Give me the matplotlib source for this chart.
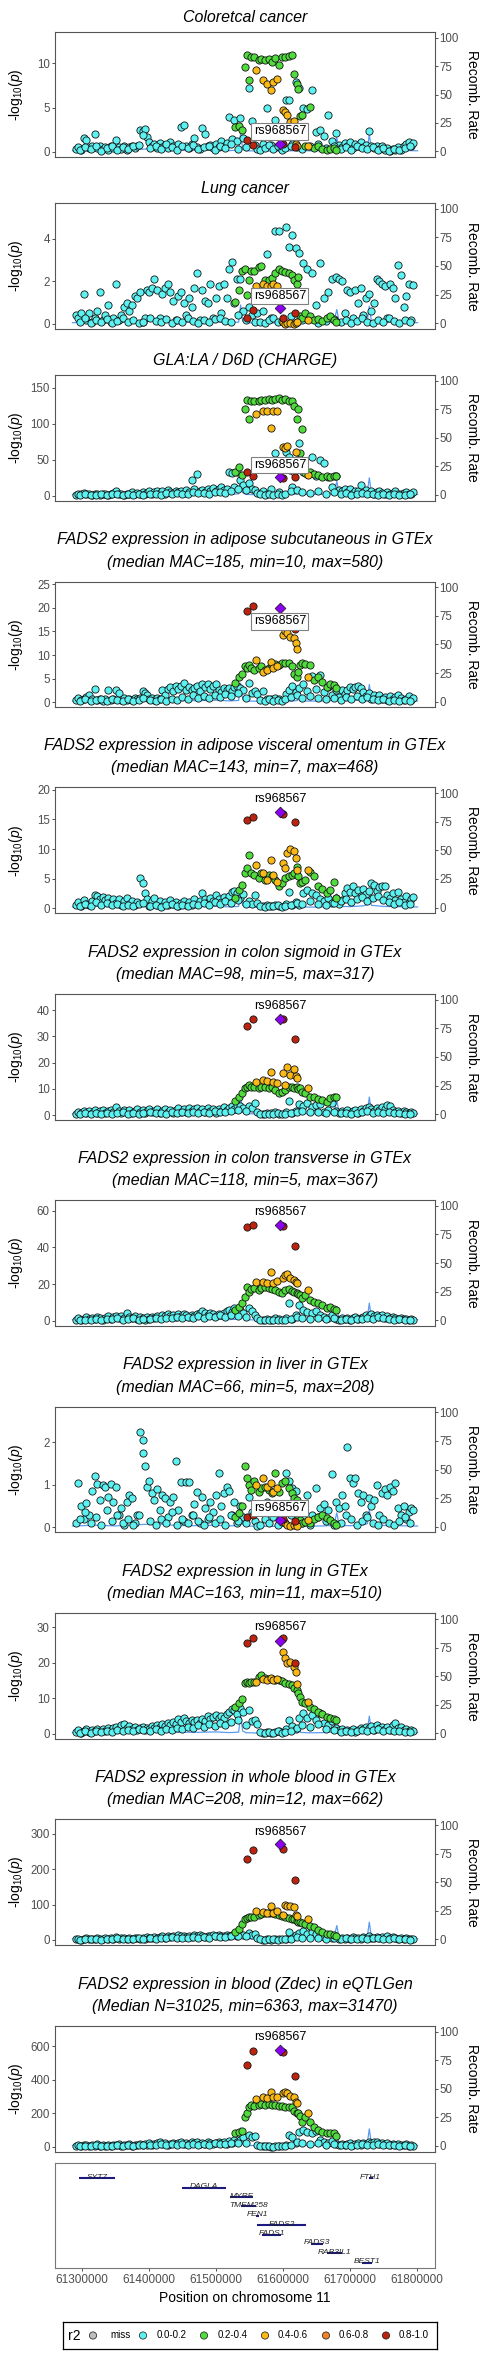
import numpy as np
import matplotlib
matplotlib.use('Agg')
import matplotlib.pyplot as plt

plt.rcParams['font.family'] = ['Liberation Sans', 'DejaVu Sans']
plt.rcParams['mathtext.fontset'] = 'custom'
plt.rcParams['mathtext.rm'] = 'Liberation Sans'
plt.rcParams['mathtext.it'] = 'Liberation Sans:italic'

# ---------------- shared SNP positions (kb on chr11) ----------------
bg_kb = [61292, 61295, 61299, 61303, 61307, 61311, 61315, 61319, 61323, 61327,
         61331, 61335, 61339, 61343, 61347, 61351, 61355, 61359, 61363, 61367,
         61371, 61375, 61379, 61383, 61387, 61391, 61394, 61397, 61400, 61404,
         61408, 61412, 61416, 61420, 61424, 61428, 61432, 61436, 61440, 61444,
         61448, 61452, 61456, 61460, 61464, 61468, 61472, 61476, 61480, 61484,
         61488, 61492, 61496, 61500, 61504, 61508, 61512, 61516, 61520, 61524,
         61527, 61531, 61536, 61541, 61550, 61554, 61558, 61562, 61570, 61577,
         61583, 61589, 61594, 61605, 61609, 61614, 61619, 61624, 61630, 61636,
         61643, 61650, 61656, 61662, 61668, 61674, 61679, 61684, 61688, 61692,
         61696, 61700, 61704, 61708, 61712, 61716, 61720, 61724, 61728, 61732,
         61736, 61740, 61744, 61748, 61752, 61756, 61760, 61764, 61768, 61772,
         61776, 61780, 61784, 61788, 61791, 61794]
bg2_kb = [61297, 61305, 61313, 61321, 61329, 61337, 61345, 61353, 61361, 61369,
          61377, 61385, 61392, 61402, 61410, 61418, 61426, 61434, 61442, 61450,
          61458, 61466, 61474, 61482, 61490, 61498, 61506, 61514, 61522, 61533,
          61545, 61566, 61573, 61580, 61586, 61592, 61598, 61603, 61612, 61621,
          61628, 61640, 61652, 61664, 61676, 61686, 61694, 61702, 61710, 61718,
          61726, 61734, 61742, 61750, 61758, 61766, 61774, 61782, 61790]
green_kb = [61529, 61534, 61539, 61544, 61546, 61549, 61552, 61556.5, 61564, 61567,
            61574, 61579, 61584, 61588, 61593.5, 61598.5, 61603.5, 61608.5, 61613, 61617,
            61621, 61623, 61626, 61628, 61633, 61641, 61646, 61653, 61658, 61666,
            61671, 61676, 61680]
orange_kb = [61560, 61571, 61576, 61582, 61586, 61591, 61600.5, 61603.5, 61606, 61611,
             61616, 61619.5, 61621.5, 61638]
red_kb = [61547, 61556, 61599.5, 61618.5]
lead_kb = 61595.6
lead_name = "rs968567"

# recombination rate
recomb_kb = [61286, 61300, 61320, 61350, 61380, 61410, 61440, 61470, 61500, 61520,
             61534, 61537, 61540, 61545, 61560, 61580, 61600, 61615, 61622, 61624,
             61626, 61640, 61660, 61676, 61680.5, 61684, 61700, 61720, 61726, 61729,
             61732, 61750, 61770, 61801]
recomb_rate = [0.5, 0.8, 1.2, 0.6, 1.5, 2.5, 1.0, 0.8, 1.2, 0.6,
               1.0, 16, 2.0, 0.5, 0.3, 0.2, 0.3, 0.5, 1.0, 7,
               0.8, 0.4, 0.6, 1.0, 12, 1.0, 0.8, 1.5, 2.5, 15,
               2.0, 1.0, 0.8, 0.5]

# ---------------- panel titles ----------------
titles = [
    ["Coloretcal cancer"],
    ["Lung cancer"],
    ["GLA:LA / D6D (CHARGE)"],
    ["FADS2 expression in adipose subcutaneous in GTEx", "(median MAC=185, min=10, max=580)"],
    ["FADS2 expression in adipose visceral omentum in GTEx", "(median MAC=143, min=7, max=468)"],
    ["FADS2 expression in colon sigmoid in GTEx", "(median MAC=98, min=5, max=317)"],
    ["FADS2 expression in colon transverse in GTEx", "(median MAC=118, min=5, max=367)"],
    ["FADS2 expression in liver in GTEx", "(median MAC=66, min=5, max=208)"],
    ["FADS2 expression in lung in GTEx", "(median MAC=163, min=11, max=510)"],
    ["FADS2 expression in whole blood in GTEx", "(median MAC=208, min=12, max=662)"],
    ["FADS2 expression in blood (Zdec) in eQTLGen", "(Median N=31025, min=6363, max=31470)"],
]

# ---------------- -log10(p) values per panel ----------------
bg_colorectal = [0.3, 0.5, 0.2, 1.6, 1.3, 0.4, 0.6, 2.0, 0.4, 0.7,
                 0.3, 0.5, 0.2, 0.6, 0.4, 1.3, 0.5, 0.3, 0.6, 0.2,
                 0.5, 0.7, 0.4, 0.6, 2.4, 2.3, 2.6, 1.7, 1.1, 0.6,
                 0.9, 0.4, 1.0, 0.5, 0.8, 0.4, 1.1, 0.6, 0.5, 0.9,
                 2.8, 3.0, 0.7, 0.4, 0.9, 1.6, 0.5, 0.3, 2.7, 2.0,
                 0.6, 0.8, 0.4, 0.9, 0.5, 1.2, 0.6, 1.0, 3.9, 1.4,
                 3.6, 1.2, 3.8, 1.5, 7.2, 3.5, 0.8, 0.3, 0.9, 4.9,
                 0.8, 3.6, 0.5, 5.8, 5.8, 0.9, 7.9, 7.2, 5.0, 4.8,
                 7.0, 2.2, 2.5, 1.8, 4.2, 1.2, 2.1, 0.8, 0.5, 1.0,
                 0.6, 1.1, 0.4, 0.9, 0.7, 1.1, 0.5, 0.8, 2.3, 0.6,
                 0.4, 0.7, 0.3, 0.6, 0.2, 0.4, 0.1, 0.3, 0.2, 0.5,
                 0.2, 0.7, 0.9, 1.1, 0.6, 1.0]
bg_lungca = [0.4, 0.3, 0.5, 1.4, 0.2, 0.5, 0.1, 0.3, 0.6, 1.5,
             0.2, 0.4, 0.9, 0.1, 0.3, 1.9, 0.2, 0.4, 0.8, 1.0,
             0.6, 0.9, 1.3, 1.2, 1.5, 0.1, 0.3, 1.6, 1.5, 1.7,
             2.1, 1.6, 0.3, 1.4, 1.7, 1.9, 1.5, 1.1, 0.2, 1.3,
             1.5, 1.0, 0.4, 1.2, 0.8, 1.7, 2.4, 0.2, 1.6, 1.1,
             1.0, 1.9, 0.3, 1.2, 1.8, 0.5, 1.9, 1.2, 2.6, 2.9,
             1.0, 2.1, 2.1, 0.6, 0.8, 0.4, 0.1, 0.5, 0.6, 3.3,
             0.3, 4.35, 4.35, 4.55, 3.6, 4.2, 3.55, 3.35, 2.85, 2.6,
             2.4, 0.9, 2.85, 1.2, 1.5, 2.1, 2.2, 2.1, 2.0, 0.5,
             1.6, 1.5, 0.3, 1.6, 1.0, 1.7, 0.4, 1.2, 1.4, 0.6,
             1.0, 2.1, 2.0, 1.9, 1.8, 0.3, 1.9, 1.7, 1.2, 2.75,
             2.3, 0.8, 1.3, 1.9, 0.2, 1.85]
bg_gla = [1, 3, 2, 4, 2, 3, 1, 2, 3, 1,
          2, 3, 1, 2, 4, 6, 2, 3, 1, 2,
          3, 5, 2, 4, 3, 5, 2, 4, 6, 3,
          5, 7, 4, 6, 3, 8, 5, 4, 7, 5,
          6, 4, 8, 5, 22, 9, 30, 6, 8, 5,
          9, 7, 11, 6, 9, 12, 8, 10, 33, 32,
          12, 33, 22, 15, 17, 10, 8, 4, 6, 2,
          10, 59, 5, 61, 54, 12, 40, 73, 33, 30,
          54, 28, 50, 45, 26, 12, 27, 8, 6, 10,
          5, 9, 4, 7, 6, 15, 5, 8, 4, 6,
          3, 5, 7, 4, 3, 5, 2, 4, 6, 3,
          2, 4, 5, 3, 2, 5]
bg_adsub = [0.5, 0.9, 0.4, 0.8, 1.2, 1.5, 0.6, 2.8, 0.5, 0.7,
            0.3, 0.6, 2.6, 0.4, 0.8, 2.5, 1.9, 0.5, 0.9, 0.4,
            0.7, 0.5, 0.9, 0.6, 1.0, 2.3, 2.0, 1.5, 0.6, 0.9,
            0.4, 1.0, 0.7, 2.6, 1.5, 2.9, 3.2, 2.4, 3.4, 2.8,
            3.5, 4.0, 2.5, 3.2, 2.7, 3.0, 3.5, 2.4, 3.8, 3.2,
            3.9, 2.8, 3.4, 3.9, 2.6, 2.2, 3.0, 2.5, 3.1, 2.4,
            3.3, 3.5, 3.0, 2.6, 4.0, 2.0, 2.3, 1.8, 2.3, 0.8,
            0.6, 1.0, 0.7, 1.8, 2.5, 3.4, 2.2, 3.0, 3.8, 2.4,
            5.5, 2.8, 5.8, 2.2, 3.3, 1.5, 2.5, 1.2, 2.6, 1.8,
            2.7, 3.3, 2.9, 3.2, 3.4, 3.0, 2.1, 1.4, 2.0, 0.8,
            1.5, 0.9, 1.6, 0.6, 1.2, 0.5, 1.4, 0.7, 1.1, 1.6,
            0.9, 0.4, 0.8, 1.3, 0.5, 0.9]
bg_advis = [0.6, 1.1, 0.4, 1.4, 0.8, 0.5, 1.2, 2.2, 2.1, 1.6,
            1.9, 1.4, 1.8, 1.1, 1.6, 0.9, 1.5, 0.6, 1.3, 1.7,
            0.8, 1.2, 0.5, 1.0, 5.1, 4.2, 2.5, 1.6, 0.4, 1.3,
            1.7, 0.6, 1.2, 0.3, 1.0, 0.5, 1.4, 0.7, 1.1, 0.4,
            0.9, 1.3, 0.5, 1.0, 0.6, 1.5, 0.8, 1.2, 2.5, 1.6,
            1.0, 1.8, 1.3, 2.2, 1.5, 1.1, 1.9, 1.4, 2.0, 2.7,
            3.0, 2.6, 1.8, 2.4, 1.2, 0.7, 2.2, 0.9, 0.4, 0.6,
            0.3, 0.5, 0.4, 0.8, 2.8, 0.5, 1.0, 0.6, 2.6, 3.1,
            2.5, 2.2, 1.6, 1.2, 1.8, 0.9, 1.7, 0.7, 1.4, 2.5,
            3.4, 2.8, 3.7, 2.6, 3.1, 2.0, 3.3, 2.4, 3.0, 4.2,
            3.9, 2.9, 3.6, 3.7, 3.8, 2.3, 1.8, 2.6, 1.4, 2.8,
            1.6, 1.1, 2.0, 0.9, 1.5, 1.9]
bg_colsig = [0.5, 1.2, 0.8, 1.6, 0.6, 1.4, 0.9, 1.8, 0.7, 1.5,
             1.9, 0.8, 1.6, 2.0, 1.2, 3.2, 1.5, 0.9, 2.0, 1.3,
             1.8, 0.7, 1.6, 2.1, 1.1, 1.9, 0.6, 1.4, 2.3, 1.0,
             1.7, 2.2, 0.8, 1.5, 2.4, 1.2, 2.0, 0.9, 1.8, 2.5,
             1.3, 2.2, 1.0, 2.6, 1.6, 2.1, 2.8, 1.4, 2.3, 1.1,
             2.5, 1.7, 2.2, 0.9, 2.4, 1.5, 2.9, 1.8, 2.6, 3.4,
             2.2, 3.8, 3.4, 2.5, 3.6, 2.8, 4.4, 1.3, 0.4, 0.9,
             0.6, 1.0, 0.5, 1.2, 5.5, 0.8, 1.5, 4.2, 3.5, 4.6,
             3.0, 3.7, 4.2, 1.1, 2.0, 4.4, 1.5, 0.8, 1.6, 1.2,
             2.0, 0.7, 1.4, 1.9, 0.9, 2.3, 1.6, 2.8, 3.2, 2.1,
             1.4, 2.7, 1.9, 3.0, 2.4, 3.8, 3.3, 2.0, 1.3, 1.7,
             0.9, 1.5, 1.1, 0.6, 1.2, 0.6]
bg_coltra = [0.8, 1.5, 0.6, 1.2, 2.0, 0.9, 1.6, 1.1, 2.3, 1.4,
             0.7, 1.9, 2.5, 1.3, 2.1, 2.7, 1.5, 2.9, 1.8, 4.2,
             2.2, 1.4, 2.6, 1.0, 2.3, 1.7, 0.8, 2.0, 1.2, 2.4,
             1.6, 2.9, 1.9, 3.5, 2.6, 3.8, 2.8, 3.3, 2.2, 3.6,
             2.9, 3.9, 3.1, 2.4, 3.5, 2.8, 3.7, 4.3, 5.6, 4.1,
             3.2, 4.5, 3.6, 2.9, 4.0, 3.3, 4.6, 5.4, 6.2, 4.9,
             7.0, 5.2, 6.1, 4.5, 6.9, 5.6, 3.3, 1.8, 0.6, 1.2,
             0.8, 1.4, 0.9, 1.5, 10.0, 1.1, 3.0, 8.7, 6.2, 5.0,
             4.1, 5.6, 3.4, 2.2, 1.5, 3.0, 1.2, 0.7, 1.5, 1.0,
             1.8, 0.8, 1.4, 2.0, 1.1, 1.9, 2.4, 3.2, 2.6, 3.8,
             2.9, 3.5, 2.2, 3.1, 1.8, 2.6, 1.4, 2.2, 1.6, 1.0,
             1.7, 0.9, 1.3, 0.7, 1.0, 0.5]
bg_liver = [0.1, 1.05, 0.5, 0.2, 0.58, 0.3, 0.86, 1.2, 1.02, 0.65,
            1.0, 0.95, 0.72, 1.02, 0.6, 0.95, 0.3, 0.45, 0.05, 0.6,
            0.76, 0.7, 0.1, 0.3, 2.25, 2.05, 1.45, 0.95, 1.1, 0.8,
            0.65, 0.9, 0.4, 0.75, 0.7, 0.25, 0.6, 0.72, 1.57, 0.4,
            1.07, 0.15, 1.07, 1.07, 0.3, 0.55, 0.84, 0.1, 0.72, 0.45,
            0.2, 0.6, 0.35, 0.75, 1.27, 0.5, 0.8, 0.95, 0.85, 0.3,
            0.6, 0.1, 0.49, 0.25, 0.72, 0.35, 0.15, 0.04, 0.4, 0.6,
            0.5, 0.3, 0.45, 1.27, 1.1, 0.92, 0.85, 0.4, 0.25, 0.76,
            0.3, 0.93, 0.45, 0.55, 0.4, 1.25, 0.6, 0.45, 0.75, 0.5,
            1.9, 1.15, 1.04, 1.15, 0.8, 0.6, 0.75, 0.3, 0.7, 0.5,
            0.65, 1.0, 0.3, 0.8, 0.9, 0.75, 0.95, 0.85, 1.05, 0.45,
            0.3, 0.5, 0.2, 0.35, 0.45, 0.4]
bg_lunggt = [0.5, 1.2, 0.4, 0.9, 1.4, 0.6, 1.1, 0.8, 1.5, 0.7,
             1.3, 0.9, 1.6, 1.1, 1.8, 2.1, 1.4, 2.4, 2.8, 1.7,
             2.2, 1.3, 1.9, 1.0, 1.6, 2.0, 1.2, 1.8, 1.4, 2.3,
             1.7, 2.5, 1.9, 2.8, 2.2, 3.2, 2.6, 3.5, 2.9, 4.1,
             3.3, 4.4, 3.6, 3.0, 3.8, 3.4, 4.0, 3.1, 4.3, 3.7,
             5.0, 4.2, 4.8, 5.3, 4.5, 5.1, 4.4, 5.5, 6.1, 7.0,
             6.7, 5.6, 7.2, 6.2, 6.7, 3.6, 3.9, 2.8, 0.4, 0.6,
             0.3, 0.5, 0.8, 1.5, 3.9, 2.2, 1.4, 4.6, 5.8, 4.4,
             5.2, 4.0, 6.0, 3.2, 2.4, 3.6, 1.8, 1.0, 1.4, 0.7,
             1.2, 0.9, 1.5, 0.6, 1.1, 1.8, 1.3, 2.0, 1.6, 2.3,
             1.2, 2.5, 1.7, 2.1, 1.4, 1.9, 1.1, 2.4, 3.2, 1.6,
             2.0, 1.0, 1.5, 0.8, 1.2, 0.9]
bg_blood = [2, 4, 1, 3, 5, 2, 4, 3, 6, 2,
            4, 5, 3, 6, 4, 8, 3, 5, 7, 4,
            6, 3, 5, 7, 4, 6, 3, 8, 5, 7,
            9, 6, 8, 10, 7, 11, 8, 12, 9, 13,
            10, 12, 8, 11, 9, 13, 10, 14, 11, 9,
            12, 10, 13, 11, 14, 10, 12, 15, 11, 13,
            16, 12, 18, 14, 20, 15, 17, 6, 1, 2,
            1, 3, 2, 4, 22, 5, 14, 20, 25, 18,
            22, 16, 19, 8, 12, 6, 9, 4, 7, 3,
            6, 4, 8, 5, 7, 3, 9, 6, 10, 7,
            5, 8, 6, 9, 7, 10, 5, 8, 6, 4,
            7, 3, 5, 2, 4, 2]
bg_eqtlgen = [5, 10, 3, 8, 12, 4, 9, 6, 14, 5,
              10, 7, 13, 4, 11, 8, 15, 6, 12, 9,
              16, 7, 13, 10, 18, 8, 14, 11, 20, 12,
              17, 24, 30, 15, 22, 13, 19, 25, 16, 21,
              27, 18, 23, 14, 26, 20, 29, 17, 24, 19,
              28, 22, 16, 25, 30, 21, 27, 18, 32, 24,
              38, 30, 42, 55, 70, 60, 64, 8, 2, 4,
              1, 6, 3, 12, 70, 60, 25, 85, 100, 90,
              80, 95, 40, 30, 20, 35, 15, 10, 18, 8,
              14, 20, 11, 16, 22, 12, 25, 18, 28, 21,
              26, 30, 19, 24, 15, 22, 13, 18, 10, 16,
              12, 8, 14, 6, 10, 5]

bg2_colorectal = [0.2, 0.5, 0.3, 0.6, 0.1, 0.4, 0.7, 0.2, 0.5, 0.3,
                  0.6, 0.8, 1.9, 0.4, 0.7, 0.3, 0.9, 0.5, 0.2, 0.6,
                  0.4, 0.8, 0.3, 0.5, 0.7, 0.2, 0.6, 0.4, 0.9, 0.3,
                  0.5, 0.2, 0.4, 0.8, 0.3, 0.6, 0.2, 0.4, 0.7, 0.5,
                  0.3, 0.6, 0.9, 0.4, 0.7, 0.3, 0.5, 0.2, 0.6, 0.4,
                  0.3, 0.5, 0.2, 0.4, 0.1, 0.3, 0.2, 0.4, 0.6]
bg2_lungca = [0.1, 0.3, 0.05, 0.2, 0.1, 0.25, 0.05, 0.15, 0.3, 0.1,
              0.2, 0.05, 0.1, 0.3, 0.15, 0.1, 0.25, 0.05, 0.2, 0.1,
              0.3, 0.15, 0.05, 0.2, 0.1, 0.25, 0.3, 0.15, 0.1, 0.4,
              0.2, 0.1, 0.05, 0.2, 0.3, 0.1, 0.15, 0.05, 0.35, 0.1,
              0.2, 0.3, 0.05, 0.15, 0.25, 0.1, 0.2, 0.05, 0.15, 0.3,
              0.1, 0.05, 0.2, 0.1, 0.3, 0.15, 0.05, 0.2, 0.1]
bg2_gla = [1, 2, 0.5, 1.5, 2.5, 1, 2, 3, 1.5, 2,
           1, 2.5, 1.5, 3, 2, 1, 3.5, 2, 4, 3,
           2.5, 5, 3.5, 4, 3, 5, 4.5, 3.5, 6, 10,
           8, 2, 1, 3, 1.5, 2, 1, 3, 6, 8,
           5, 4, 6, 3, 5, 2, 3.5, 1.5, 2.5, 4,
           2, 3, 1.5, 2.5, 1, 2, 1.5, 1, 2]
bg2_adsub = [0.3, 0.6, 0.2, 0.5, 0.8, 0.3, 0.7, 0.4, 0.2, 0.6,
             0.3, 0.5, 0.9, 0.4, 0.2, 0.6, 0.3, 0.8, 0.5, 1.2,
             0.7, 1.5, 0.9, 1.3, 1.0, 1.6, 1.2, 1.8, 1.4, 2.0,
             1.0, 0.4, 0.3, 0.6, 0.2, 0.5, 0.3, 0.7, 1.2, 1.5,
             0.9, 1.4, 1.0, 0.6, 0.9, 0.5, 1.1, 0.7, 1.3, 0.8,
             1.2, 0.6, 0.4, 0.7, 0.3, 0.5, 0.2, 0.4, 0.3]
bg2_advis = [0.3, 0.7, 0.4, 1.0, 0.6, 0.9, 0.5, 0.8, 0.3, 0.6,
             0.4, 0.7, 0.9, 0.3, 0.6, 0.2, 0.5, 0.8, 0.3, 0.6,
             0.4, 0.7, 0.5, 0.9, 0.6, 1.1, 0.7, 1.2, 0.9, 1.4,
             0.8, 0.3, 0.2, 0.4, 0.3, 0.5, 0.2, 0.4, 0.6, 0.9,
             0.7, 1.2, 0.8, 0.5, 0.9, 1.2, 1.6, 1.0, 1.5, 1.9,
             1.3, 1.7, 2.0, 1.4, 1.1, 0.8, 1.0, 0.6, 0.8]
bg2_colsig = [0.3, 0.7, 0.4, 0.9, 0.5, 0.8, 0.3, 0.6, 1.0, 0.5,
              0.8, 0.4, 0.7, 1.1, 0.6, 0.9, 0.5, 1.2, 0.8, 1.0,
              0.6, 1.3, 0.9, 1.1, 0.7, 1.4, 1.0, 1.2, 1.5, 2.0,
              1.6, 0.4, 0.3, 0.5, 0.2, 0.6, 0.3, 0.5, 0.8, 1.2,
              1.5, 1.0, 1.3, 0.8, 1.1, 0.6, 0.9, 0.5, 0.8, 1.1,
              1.4, 0.9, 1.2, 0.7, 1.0, 0.6, 0.8, 0.4, 0.5]
bg2_coltra = [0.4, 0.8, 0.5, 1.0, 0.6, 1.2, 0.9, 1.4, 0.7, 1.1,
              1.5, 0.8, 1.3, 1.0, 1.6, 1.2, 1.9, 1.4, 2.1, 1.7,
              2.3, 1.5, 2.5, 1.9, 2.8, 2.2, 3.0, 2.4, 3.2, 2.8,
              2.0, 0.5, 0.4, 0.7, 0.3, 0.6, 0.4, 0.8, 1.2, 2.0,
              1.6, 1.3, 1.8, 1.0, 1.4, 0.7, 1.1, 0.6, 0.9, 1.3,
              1.7, 1.2, 2.0, 1.5, 1.1, 0.8, 1.0, 0.6, 0.5]
bg2_liver = [0.2, 0.35, 0.1, 0.25, 0.05, 0.4, 0.15, 0.3, 0.1, 0.2,
             0.05, 0.3, 1.75, 0.15, 0.05, 0.2, 0.1, 0.35, 0.05, 0.2,
             0.1, 0.3, 0.15, 0.05, 0.25, 0.1, 0.2, 0.05, 0.3, 0.15,
             0.1, 0.05, 0.2, 0.1, 0.25, 0.05, 0.15, 0.1, 0.3, 0.2,
             0.1, 0.05, 0.25, 0.15, 0.05, 0.1, 0.3, 0.2, 0.05, 0.15,
             0.25, 0.1, 0.05, 0.2, 0.1, 0.05, 0.15, 0.25, 0.1]
bg2_lunggt = [0.3, 0.7, 0.4, 0.9, 0.5, 0.8, 0.6, 1.1, 0.7, 1.2,
              0.9, 1.4, 1.0, 0.8, 1.3, 0.9, 1.5, 1.1, 1.8, 1.4,
              2.1, 1.6, 2.4, 1.9, 2.7, 2.2, 3.0, 2.6, 3.4, 4.0,
              2.5, 0.5, 0.3, 0.6, 0.4, 0.7, 0.3, 0.5, 0.9, 1.8,
              2.5, 2.0, 2.8, 1.5, 1.0, 0.6, 0.9, 0.5, 0.8, 1.1,
              0.7, 1.0, 1.3, 0.9, 1.2, 0.7, 0.9, 0.5, 0.6]
bg2_blood = [1, 3, 2, 4, 1, 3, 2, 5, 3, 4,
             2, 5, 3, 6, 4, 7, 5, 8, 6, 7,
             5, 9, 6, 8, 7, 10, 8, 9, 11, 12,
             10, 2, 1, 3, 2, 1, 2, 3, 4, 8,
             6, 5, 7, 4, 6, 3, 5, 2, 4, 6,
             3, 5, 7, 4, 3, 5, 2, 3, 1]
bg2_eqtlgen = [3, 6, 2, 8, 4, 7, 5, 10, 6, 9,
               4, 11, 8, 13, 9, 15, 10, 17, 12, 14,
               11, 19, 13, 16, 12, 20, 15, 18, 22, 25,
               20, 3, 2, 5, 1, 4, 2, 6, 10, 30,
               22, 18, 24, 12, 16, 8, 12, 6, 10, 14,
               9, 13, 17, 11, 8, 12, 6, 9, 4]

green_colorectal = [2.8, 2.9, 2.5, 9.6, 10.9, 8.1, 10.75, 10.75, 10.4, 10.5,
                    10.4, 10.5, 10.2, 10.6, 9.8, 10.7, 10.7, 10.8, 10.9, 8.8,
                    7.7, 7.1, 4.0, 4.2, 0.6, 5.1, 0.4, 0.6, 0.3, 0.2, 0.3, 0.4, 0.2]
green_lungca = [1.05, 1.6, 2.5, 2.6, 1.35, 2.07, 2.5, 2.5, 2.7, 2.73,
                2.07, 2.07, 2.15, 2.38, 2.6, 2.5, 2.46, 2.38, 2.3, 2.07,
                1.9, 2.2, 0.35, 0.27, 0.5, 0.35, 0.2, 0.22, 0.16, 0.27, 0.35, 0.2, 0.1]
green_gla = [33, 40, 29, 121, 133, 106, 132, 132, 131, 133,
             133, 134, 133, 134, 135, 133, 134, 132, 131, 124,
             107, 121, 60, 93, 31, 33, 30, 29, 26, 27, 26, 27, 27]
green_adsub = [4.0, 5.3, 6.1, 7.6, 7.2, 7.9, 7.2, 6.9, 7.2, 7.6,
               6.9, 7.2, 7.6, 8.1, 7.9, 8.4, 8.3, 8.4, 7.6, 6.1,
               5.4, 6.5, 7.9, 8.4, 8.1, 7.9, 4.7, 5.4, 4.4, 3.3, 3.9, 3.7, 3.0]
green_advis = [1.7, 3.1, 3.9, 5.9, 6.8, 9.0, 5.9, 5.6, 5.1, 5.9,
               4.8, 5.6, 5.4, 4.8, 3.7, 4.2, 5.1, 5.4, 5.6, 5.9,
               7.0, 5.4, 4.2, 4.5, 4.8, 6.2, 5.4, 3.7, 3.2, 2.5, 3.1, 4.5, 1.7]
green_colsig = [5.5, 7.0, 8.3, 10.2, 10.8, 11.4, 10.8, 10.5, 10.2, 10.5,
                10.8, 10.2, 10.5, 9.5, 8.3, 8.9, 9.5, 10.5, 10.8, 10.2,
                10.8, 9.8, 10.2, 8.9, 8.3, 7.0, 6.7, 6.0, 5.7, 5.1, 6.3, 7.0, 6.7]
green_coltra = [6.0, 7.8, 9.6, 13.3, 18.7, 16.0, 17.3, 17.8, 16.9, 17.8,
                18.4, 17.8, 17.3, 16.9, 16.0, 15.1, 16.9, 17.3, 16.5, 16.0,
                15.1, 14.7, 14.2, 12.4, 14.2, 11.5, 10.5, 9.6, 8.7, 6.9, 7.8, 6.4, 6.0]
green_liver = [0.25, 0.33, 0.49, 1.44, 1.15, 1.0, 0.88, 1.1, 0.84, 0.92,
               0.96, 0.88, 0.8, 1.27, 0.84, 1.04, 1.1, 0.92, 0.8, 0.68,
               0.64, 0.25, 0.17, 0.1, 0.13, 0.1, 0.19, 0.25, 0.29, 0.21, 0.17, 0.1, 0.05]
green_lunggt = [7.7, 8.6, 9.7, 14.2, 14.7, 14.4, 14.7, 14.7, 16.1, 16.6,
                15.7, 15.4, 15.4, 15.2, 15.2, 15.0, 14.4, 14.1, 13.8, 12.8,
                12.4, 11.4, 10.5, 9.1, 8.6, 7.7, 6.9, 6.3, 5.6, 4.9, 4.4, 4.1, 3.9]
green_blood = [22, 30, 45, 58, 62, 66, 64, 66, 70, 74,
               76, 77, 75, 74, 70, 68, 66, 63, 60, 58,
               55, 52, 50, 48, 46, 40, 36, 28, 22, 16, 18, 15, 12]
green_eqtlgen = [80, 90, 94, 176, 200, 240, 250, 244, 250, 256,
                 250, 256, 250, 250, 244, 244, 240, 240, 240, 216,
                 200, 200, 184, 150, 180, 150, 120, 100, 90, 84, 80, 80, 64]

orange_colorectal = [9.2, 8.1, 7.7, 7.0, 7.9, 8.2, 4.7, 4.5, 4.2, 3.4, 3.5, 0.9, 0.6, 0.6]
orange_lungca = [1.8, 1.9, 1.8, 1.8, 1.9, 1.8, 0.1, 0.0, 0.05, 0.03, 0.0, 0.05, 0.1, 0.2]
orange_gla = [114, 118, 117, 94, 118, 117, 68, 66, 69, 36, 33, 61, 50, 29]
orange_adsub = [9.0, 6.5, 6.9, 8.6, 7.2, 7.6, 14.3, 15.0, 14.6, 13.9, 13.6, 12.5, 11.2, 5.4]
orange_advis = [7.3, 5.9, 4.8, 8.1, 5.6, 4.5, 7.6, 6.8, 9.3, 10.0, 9.6, 8.5, 6.5, 6.4]
orange_colsig = [12.7, 13.3, 13.1, 16.5, 12.7, 12.1, 15.9, 11.4, 18.2, 15.2, 17.4, 14.9, 14.0, 10.2]
orange_coltra = [21.1, 21.1, 20.5, 26.4, 20.5, 21.5, 23.3, 25.1, 25.6, 23.3, 22.4, 21.1, 20.5, 16.9]
orange_liver = [1.0, 1.15, 0.96, 1.05, 0.84, 0.92, 0.17, 0.1, 0.05, 0.03, 0.05, 0.1, 0.02, 0.17]
orange_lunggt = [14.7, 15.4, 15.2, 15.7, 15.2, 15.4, 22.9, 21.3, 19.9, 20.3, 18.9, 17.5, 14.1, 9.1]
orange_blood = [81, 78, 76, 97, 76, 81, 71, 100, 95, 97, 92, 71, 67, 59]
orange_eqtlgen = [284, 296, 290, 330, 296, 296, 324, 330, 320, 304, 296, 270, 264, 200]

red_colorectal = [1.3, 0.8, 0.9, 0.5]
red_lungca = [0.3, 0.66, 0.3, 0.53]
red_gla = [33, 28, 24, 26]
red_adsub = [19.3, 20.5, 16.5, 15.5]
red_advis = [14.9, 15.4, 15.9, 14.6]
red_colsig = [33.9, 36.6, 36.5, 29.0]
red_coltra = [51.3, 52.1, 51.5, 40.8]
red_liver = [0.25, 0.3, 0.2, 0.15]
red_lunggt = [25.5, 27.1, 27.0, 20.0]
red_blood = [228, 254, 257, 169]
red_eqtlgen = [487, 575, 569, 421]

lead_vals = [0.9, 0.77, 26.4, 19.9, 16.2, 36.7, 52.2, 0.17, 26.2, 272, 579]

# genes
gene_names = ["SYT7", "FTH1", "DAGLA", "MYRF", "TMEM258", "FEN1", "FADS2", "FADS1", "FADS3", "RAB3IL1", "BEST1"]
gene_start_kb = [61296, 61728, 61449, 61521, 61537, 61560, 61561, 61569, 61642, 61666, 61718]
gene_end_kb = [61350, 61734, 61515, 61556, 61560, 61565, 61635, 61597, 61660, 61688, 61733]
gene_row = [0, 0, 1, 2, 3, 4, 5, 6, 7, 8, 9]

r2_labels = ["miss", "0.0-0.2", "0.2-0.4", "0.4-0.6", "0.6-0.8", "0.8-1.0"]
r2_colors = ["#BEBEBE", "#5CF2F2", "#4FDC3C", "#FAB914", "#F08228", "#BE230F"]
lead_color = "#8C00F0"

x_ticks_bp = [61300000, 61400000, 61500000, 61600000, 61700000, 61800000]

# ---------------- assemble panels ----------------
bg_sets = [bg_colorectal, bg_lungca, bg_gla, bg_adsub, bg_advis, bg_colsig, bg_coltra, bg_liver, bg_lunggt, bg_blood, bg_eqtlgen]
bg2_sets = [bg2_colorectal, bg2_lungca, bg2_gla, bg2_adsub, bg2_advis, bg2_colsig, bg2_coltra, bg2_liver, bg2_lunggt, bg2_blood, bg2_eqtlgen]
green_sets = [green_colorectal, green_lungca, green_gla, green_adsub, green_advis, green_colsig, green_coltra, green_liver, green_lunggt, green_blood, green_eqtlgen]
orange_sets = [orange_colorectal, orange_lungca, orange_gla, orange_adsub, orange_advis, orange_colsig, orange_coltra, orange_liver, orange_lunggt, orange_blood, orange_eqtlgen]
red_sets = [red_colorectal, red_lungca, red_gla, red_adsub, red_advis, red_colsig, red_coltra, red_liver, red_lunggt, red_blood, red_eqtlgen]

for i in range(11):
    assert len(bg_sets[i]) == len(bg_kb), ("bg", i, len(bg_sets[i]))
    assert len(bg2_sets[i]) == len(bg2_kb), ("bg2", i, len(bg2_sets[i]))
    assert len(green_sets[i]) == len(green_kb), ("green", i, len(green_sets[i]))
    assert len(orange_sets[i]) == len(orange_kb), ("orange", i, len(orange_sets[i]))
assert len(recomb_kb) == len(recomb_rate)

# layout (pixels)
W_PX, H_PX = 500, 2357
box_px = [(32, 157), (203, 329), (375, 500.7), (581.7, 707.3), (787.3, 913.3),
          (994, 1120), (1200, 1326), (1406.7, 1532.3), (1613.3, 1739),
          (1819.3, 1945), (2026, 2151.7)]
ylims = [(-0.6, 13.55), (-0.24, 5.69), (-6.9, 167.6), (-1.06, 25.55), (-0.85, 20.44),
         (-1.9, 46.1), (-2.72, 65.8), (-0.118, 2.84), (-1.41, 33.9), (-14.2, 341.6), (-30, 722)]
yticks = [[0, 5, 10], [0, 2, 4], [0, 50, 100, 150], [0, 5, 10, 15, 20, 25], [0, 5, 10, 15, 20],
          [0, 10, 20, 30, 40], [0, 20, 40, 60], [0, 1, 2], [0, 10, 20, 30], [0, 100, 200, 300],
          [0, 200, 400, 600]]
label_boxed = [True, True, True, True, False, False, False, True, False, False, False]
label_off = [12.3, 11.7, 11.7, -13, 13, 13, 13.3, 12, 13.7, 12.3, 12.7]

XLIM = (61260e3, 61827e3)
BOX_L, BOX_R = 55, 435
EDGE = "#141414"
EDGE_LW = 0.6
S_PT = 27
TICK_COL = "#4D4D4D"


def fx(px):
    return px / W_PX


def fy(py):
    return 1 - py / H_PX


fig = plt.figure(figsize=(W_PX / 100, H_PX / 100), dpi=100)
fig.patch.set_facecolor("white")

bg_x = np.array(bg_kb) * 1000
bg2_x = np.array(bg2_kb) * 1000
green_x = np.array(green_kb) * 1000
orange_x = np.array(orange_kb) * 1000
red_x = np.array(red_kb) * 1000
lead_x = lead_kb * 1000
rec_x = np.array(recomb_kb) * 1000

for i in range(11):
    top, bot = box_px[i]
    ax = fig.add_axes([fx(BOX_L), fy(bot), fx(BOX_R) - fx(BOX_L), (bot - top) / H_PX])
    ax2 = ax.twinx()
    ax.set_zorder(ax2.get_zorder() + 1)
    ax.patch.set_visible(False)
    ax2.patch.set_facecolor("white")

    ax2.plot(rec_x, recomb_rate, color="#5B9BF0", lw=0.9, zorder=1)
    ax2.set_ylim(-5, 105)
    ax2.set_yticks([0, 25, 50, 75, 100])
    ax2.tick_params(axis="y", length=2.2, width=0.6, color="#333333", labelsize=8.3,
                    labelcolor=TICK_COL, pad=1)
    for sp in ax2.spines.values():
        sp.set_visible(False)

    ax.scatter(bg_x, bg_sets[i], s=S_PT, c=r2_colors[1], edgecolors=EDGE, linewidths=EDGE_LW, zorder=2)
    ax.scatter(bg2_x, bg2_sets[i], s=S_PT, c=r2_colors[1], edgecolors=EDGE, linewidths=EDGE_LW, zorder=2)
    ax.scatter(green_x, green_sets[i], s=S_PT, c=r2_colors[2], edgecolors=EDGE, linewidths=EDGE_LW, zorder=3)
    ax.scatter(orange_x, orange_sets[i], s=S_PT, c=r2_colors[3], edgecolors=EDGE, linewidths=EDGE_LW, zorder=4)
    ax.scatter(red_x, red_sets[i], s=S_PT, c=r2_colors[5], edgecolors=EDGE, linewidths=EDGE_LW, zorder=5)
    ax.scatter([lead_x], [lead_vals[i]], s=30, marker="D", c=lead_color, edgecolors=EDGE,
               linewidths=0.5, zorder=6)

    kw = dict(ha="center", va="center", fontsize=9, color="black", zorder=10)
    if label_boxed[i]:
        kw["bbox"] = dict(boxstyle="square,pad=0.18", fc="white", ec="#808080", lw=0.8)
    ax.annotate(lead_name, xy=(lead_x, lead_vals[i]), xytext=(0, label_off[i]),
                textcoords="offset pixels", **kw)

    ax.set_xlim(XLIM)
    ax.set_ylim(ylims[i])
    ax.set_yticks(yticks[i])
    ax.set_xticks([])
    ax.tick_params(axis="y", length=2.2, width=0.6, color="#333333", labelsize=8.3,
                   labelcolor=TICK_COL, pad=1.5)
    for sp in ax.spines.values():
        sp.set_color("#555555")
        sp.set_linewidth(0.8)

    # titles
    lines = titles[i]
    if len(lines) == 1:
        fig.text(fx(245), fy(top - 14.5), lines[0], ha="center", va="center",
                 fontsize=11.5, style="italic")
    else:
        fig.text(fx(245), fy(top - 41.8), lines[0], ha="center", va="center",
                 fontsize=11.5, style="italic")
        fig.text(fx(245), fy(top - 19.5), lines[1], ha="center", va="center",
                 fontsize=11.5, style="italic")

    mid = (top + bot) / 2
    fig.text(fx(16), fy(mid), r"-log$_{10}$($\it{p}$)", rotation=90, ha="center",
             va="center", fontsize=10)
    fig.text(fx(471.5), fy(mid), "Recomb. Rate", rotation=270, ha="center",
             va="center", fontsize=10)

# gene panel
gtop, gbot = 2163.3, 2267.7
gax = fig.add_axes([fx(BOX_L), fy(gbot), fx(BOX_R) - fx(BOX_L), (gbot - gtop) / H_PX])
gax.set_xlim(XLIM)
gax.set_ylim(9.53, -1.6)
for name, s0, e0, row in zip(gene_names, gene_start_kb, gene_end_kb, gene_row):
    gax.plot([s0 * 1000, e0 * 1000], [row, row], color="#1A1A80", lw=1.5, solid_capstyle="butt")
    gax.text((s0 + e0) / 2 * 1000, row + 0.05, name, ha="center", va="baseline",
             fontsize=6, style="italic", color="#222222")
gax.set_yticks([])
gax.set_xticks(x_ticks_bp)
gax.set_xticklabels([str(t) for t in x_ticks_bp])
gax.tick_params(axis="x", length=2.2, width=0.6, color="#333333", labelsize=8.5,
                labelcolor=TICK_COL, pad=2)
for sp in gax.spines.values():
    sp.set_color("#777777")
    sp.set_linewidth(0.8)
fig.text(fx(245), fy(2298.3), "Position on chromosome 11", ha="center", va="center", fontsize=10)

# legend
ltop, lbot = 2321.7, 2349.3
lax = fig.add_axes([fx(63), fy(lbot), fx(437) - fx(63), (lbot - ltop) / H_PX])
lax.set_xlim(63, 437)
lax.set_ylim(0, 1)
lax.set_xticks([])
lax.set_yticks([])
for sp in lax.spines.values():
    sp.set_color("black")
    sp.set_linewidth(0.9)
lax.text(68, 0.5, "r2", fontsize=10, ha="left", va="center")
leg_marker_x = [93, 143, 204, 265, 326, 386]
leg_text_x = [110, 157, 218, 278, 339, 399]
lax.scatter(leg_marker_x, [0.5] * len(leg_marker_x), s=S_PT, c=r2_colors, edgecolors=EDGE,
            linewidths=0.5, clip_on=False)
for xx, lab in zip(leg_text_x, r2_labels):
    lax.text(xx, 0.5, lab, fontsize=7, ha="left", va="center")

fig.savefig("out.png", dpi=100)
